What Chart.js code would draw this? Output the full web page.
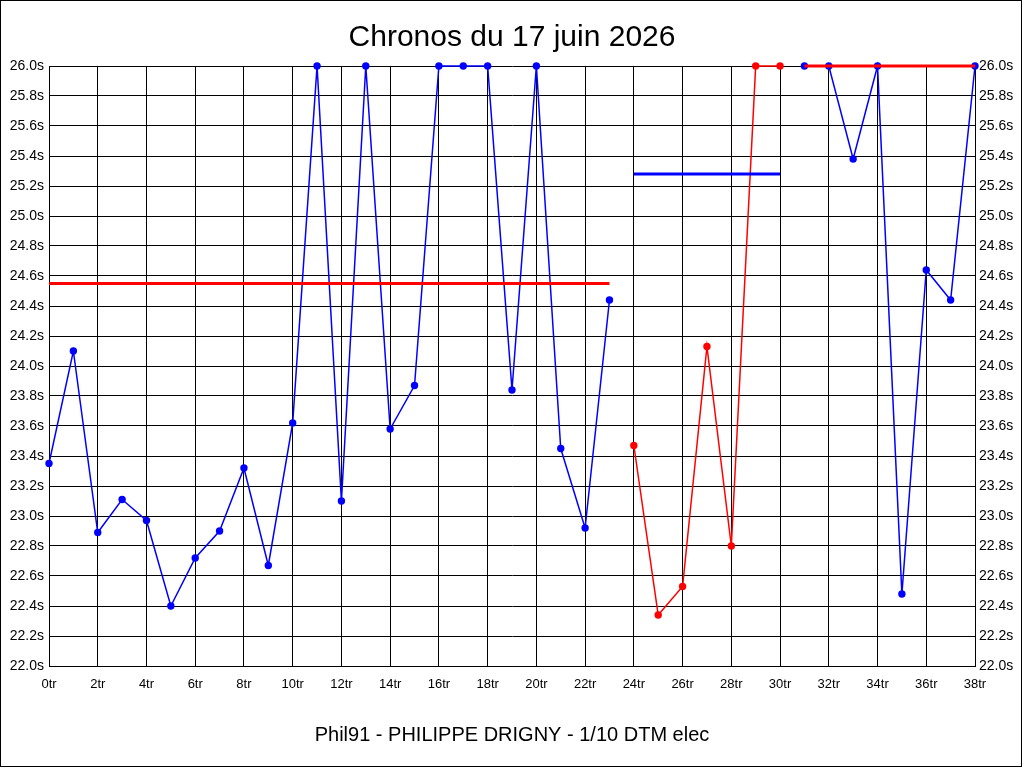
<!DOCTYPE html>
<html>
<head>
<meta charset="utf-8">
<title>Chronos du 17 juin 2026</title>
<script src="https://cdn.jsdelivr.net/npm/chart.js@4.4.1/dist/chart.umd.min.js"></script>
<style>
    html, body { margin: 0; padding: 0; background: #fff; }
    canvas { display: block; }
</style>
</head>
<body>
<canvas id="chronoChart" width="1024" height="768"></canvas>
<script>
// Lap times (seconds), one array per run; values above 26.0s are shown clipped at 26.0
const runATimes = [23.35, 24.10, 22.89, 23.11, 22.97, 22.40, 22.72, 22.90, 23.32, 22.67,
                   23.62, 26.00, 23.10, 26.00, 23.58, 23.87, 26.00, 26.00, 26.00, 23.84,
                   26.00, 23.45, 22.92, 24.44];
const runBTimes = [23.47, 22.34, 22.53, 24.13, 22.80, 26.00, 26.00];
const runCTimes = [26.00, 26.00, 25.38, 26.00, 22.48, 24.64, 24.44, 26.00];

// first lap number of each run
const runStarts = [0, 24, 31];
// average of each run (horizontal bars)
const runAverages = [24.55, 25.28, 26.00];

const yTicksMin = 22.0;
const yTicksMax = 26.0;
const lapMax = 38;

const chartTitle = 'Chronos du 17 juin 2026';
const chartFooter = 'Phil91 - PHILIPPE DRIGNY - 1/10 DTM elec';

const BLUE = '#0000ff';
const RED = '#ff0000';
const FONT = "'Liberation Sans', Arial, sans-serif";

function toPoints(times, start) {
    return times.map((t, i) => ({ x: start + i, y: t }));
}

function avgLine(times, start, avg) {
    return [{ x: start, y: avg }, { x: start + times.length - 1, y: avg }];
}

const runs = [runATimes, runBTimes, runCTimes];
const runColors = [BLUE, RED, BLUE];
const avgColors = [RED, BLUE, RED];

const datasets = [];

// averages first so they are painted on top of the lap lines
runs.forEach((times, i) => {
    datasets.push({
        data: avgLine(times, runStarts[i], runAverages[i]),
        borderColor: avgColors[i],
        borderWidth: 3,
        pointRadius: 0,
        clip: false
    });
});

runs.forEach((times, i) => {
    datasets.push({
        data: toPoints(times, runStarts[i]),
        borderColor: runColors[i],
        backgroundColor: runColors[i],
        borderWidth: 1.5,
        pointRadius: 3.7,
        pointBorderWidth: 0,
        pointBackgroundColor: runColors[i],
        clip: false
    });
});

// thin frame around the whole picture
const framePlugin = {
    id: 'frame',
    afterDraw(chart) {
        const ctx = chart.ctx;
        ctx.save();
        ctx.strokeStyle = '#000';
        ctx.lineWidth = 1;
        ctx.strokeRect(0.5, 0.5, 1021, 766);
        ctx.restore();
    }
};

const yTickOptions = {
    stepSize: 0.2,
    color: '#000',
    font: { family: FONT, size: 14 },
    callback: v => v.toFixed(1) + 's'
};

const ctx = document.getElementById('chronoChart').getContext('2d');
const chronoChart = new Chart(ctx, {
    type: 'line',
    data: { datasets: datasets },
    options: {
        responsive: false,
        animation: false,
        devicePixelRatio: 1,
        layout: { padding: 0 },
        plugins: {
            legend: { display: false },
            tooltip: { enabled: false },
            title: {
                display: true,
                text: chartTitle,
                color: '#000',
                font: { family: FONT, size: 30, weight: 'normal', lineHeight: 1.2 },
                padding: { top: 19.6, bottom: 10.4 }
            },
            subtitle: {
                display: true,
                position: 'bottom',
                text: chartFooter,
                color: '#000',
                font: { family: FONT, size: 20, weight: 'normal', lineHeight: 1.2 },
                padding: { top: 27, bottom: 21 }
            }
        },
        scales: {
            x: {
                type: 'linear',
                min: 0,
                max: lapMax,
                afterFit: scale => { scale.height = 30; },
                grid: { color: '#000', drawTicks: false },
                border: { color: '#000' },
                ticks: {
                    stepSize: 2,
                    padding: 11,
                    maxRotation: 0,
                    color: '#000',
                    font: { family: FONT, size: 13 },
                    callback: v => v + 'tr'
                }
            },
            y: {
                position: 'left',
                min: yTicksMin,
                max: yTicksMax,
                afterFit: scale => { scale.width = 49; },
                grid: { color: '#000', drawTicks: false },
                border: { color: '#000' },
                ticks: Object.assign({ padding: 5 }, yTickOptions)
            },
            y2: {
                position: 'right',
                min: yTicksMin,
                max: yTicksMax,
                afterFit: scale => { scale.width = 49; },
                grid: { drawOnChartArea: false, drawTicks: false },
                border: { color: '#000' },
                ticks: Object.assign({ padding: 4 }, yTickOptions)
            }
        }
    },
    plugins: [framePlugin]
});
</script>
</body>
</html>
